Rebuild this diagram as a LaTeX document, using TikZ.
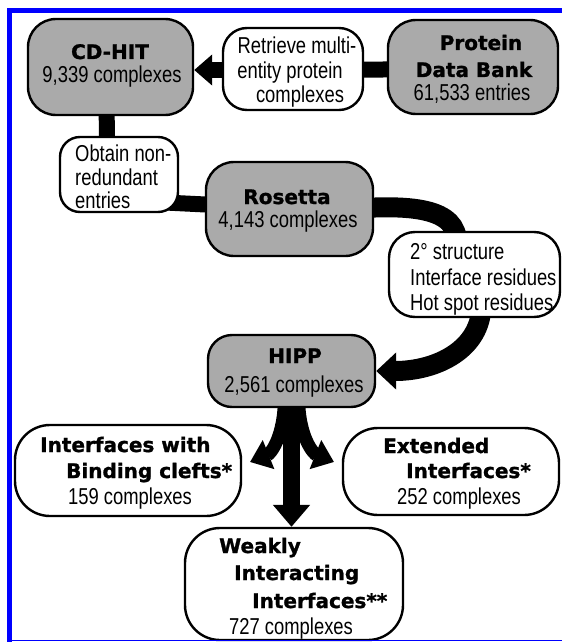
\documentclass[tikz,border=0pt]{standalone}
\usepackage{fontspec}
\setmainfont{Liberation Sans}
\newfontfamily\regfont[FakeStretch=0.8]{Liberation Sans}
\newfontfamily\heavyfont[FakeBold=1.2]{DejaVu Sans Bold}
\usetikzlibrary{arrows.meta,calc}
\pgfdeclarelayer{bg}
\pgfsetlayers{bg,main}
\definecolor{boxgray}{RGB}{170,170,170}
\definecolor{frameblue}{RGB}{0,0,255}
\begin{document}
\begin{tikzpicture}[x=1pt,y=1pt,
  graybox/.style={draw=black, line width=2.4pt, fill=boxgray, rounded corners=28pt, inner sep=0pt},
  whitebox/.style={draw=black, line width=2.4pt, fill=white, rounded corners=24pt, inner sep=0pt},
  reg/.style={font=\regfont\fontsize{23}{25}\selectfont, inner sep=0pt},
  hv/.style={font=\heavyfont\fontsize{20}{24}\selectfont, inner sep=0pt},
  band/.style={draw=black, line width=16pt, line cap=butt}
]
\useasboundingbox (0,0) rectangle (562,-642);

% boxes
\node[graybox, minimum width=165pt, minimum height=96pt] (cdhit) at (110.5,-67) {};
\node[whitebox, minimum width=140pt, minimum height=82pt] (retrieve) at (293,-69) {};
\node[graybox, minimum width=170pt, minimum height=94pt] (pdb) at (473,-67) {};
\node[whitebox, rounded corners=20pt, minimum width=118pt, minimum height=75pt] (obtain) at (119,-174.5) {};
\node[graybox, minimum width=167pt, minimum height=94pt] (rosetta) at (289.5,-209) {};
\node[whitebox, rounded corners=26pt, minimum width=171pt, minimum height=85pt] (second) at (474.5,-274.5) {};
\node[graybox, rounded corners=24pt, minimum width=167pt, minimum height=72pt] (hipp) at (291.5,-371) {};
\node[whitebox, rounded corners=35pt, minimum width=226pt, minimum height=91pt] (binding) at (128,-470.5) {};
\node[whitebox, rounded corners=35pt, minimum width=216pt, minimum height=87pt] (extended) at (451,-471.5) {};
\node[whitebox, rounded corners=35pt, minimum width=218pt, minimum height=112pt] (weakly) at (294,-584) {};

\coordinate (bl) at (250,-462);
\coordinate (br) at (334,-462);

% connectors
\begin{pgfonlayer}{bg}
\fill[white] (0,0) rectangle (562,-642);
\draw[band] ([yshift=-2pt]pdb.center) -- ([yshift=-1pt]retrieve.center);
\draw[band,-{Triangle[length=18pt,width=30pt]}] ([yshift=-1pt]retrieve.center) -- ([yshift=-3pt]cdhit.east);
\draw[band] ([xshift=-4pt]cdhit.center) -- ([xshift=-12pt]obtain.center);
\draw[band] ($(obtain.center)+(46,-28)$) -- ($(rosetta.center)+(-74,4)$);
\draw[band, line width=20pt] ($(rosetta.center)+(60,0)$) .. controls +(75,6) and +(5.5,37.5) .. ($(second.center)+(-18,25)$);
\draw[band, line width=20pt, -{Triangle[length=20pt,width=36pt]}] ($(second.center)+(7,-30)$) .. controls +(0,-45) and +(60,0) .. (hipp.east);
\draw[band, line width=17pt, -{Triangle[length=22pt,width=36pt]}] (hipp.center) -- (hipp.center |- weakly.north);
\draw[band, line width=13pt, -{Triangle[length=20pt,width=30pt]}] ($(hipp.center)+(-7,-25)$) .. controls +(0,-42) and +(20,8) .. (bl);
\draw[band, line width=13pt, -{Triangle[length=20pt,width=30pt]}] ($(hipp.center)+(7,-25)$) .. controls +(0,-42) and +(-20,8) .. (br);
\end{pgfonlayer}

% texts
\node[hv, anchor=base] (cdhitT) at (110,-59) {CD-HIT};
\node[reg, anchor=base] (cdhitN) at (112,-82) {9,339 complexes};
\node[reg, anchor=base] (retT1) at (297,-54) {Retrieve multi-};
\node[reg, anchor=base] (retT2) at (290,-78) {entity protein};
\node[reg, anchor=base] (retT3) at (300,-102) {complexes};
\node[hv, anchor=base] (pdbT1) at (481,-50) {Protein};
\node[hv, anchor=base] (pdbT2) at (474,-77) {Data Bank};
\node[reg, anchor=base] (pdbN) at (472,-100) {61,533 entries};
\node[reg, anchor=base west] (obT1) at (75,-161) {Obtain non-};
\node[reg, anchor=base west] (obT2) at (75,-185) {redundant};
\node[reg, anchor=base west] (obT3) at (75,-208) {entries};
\node[hv, anchor=base] (rosT) at (287,-204) {Rosetta};
\node[reg, anchor=base] (rosN) at (288,-227) {4,143 complexes};
\node[reg, anchor=base west] (secT1) at (410,-259) {2° structure};
\node[reg, anchor=base west] (secT2) at (410,-285) {Interface residues};
\node[reg, anchor=base west] (secT3) at (410,-310) {Hot spot residues};
\node[hv, anchor=base] (hippT) at (295,-363) {HIPP};
\node[reg, anchor=base] (hippN) at (294,-392) {2,561 complexes};
\node[hv, anchor=base west] (bdT1) at (40,-452) {Interfaces with};
\node[hv, anchor=base west] (bdT2) at (66,-478) {Binding clefts*};
\node[reg, anchor=base west] (bdN) at (68,-504) {159 complexes};
\node[hv, anchor=base west] (exT1) at (383,-453) {Extended};
\node[hv, anchor=base west] (exT2) at (406,-478) {Interfaces*};
\node[reg, anchor=base west] (exN) at (397,-504) {252 complexes};
\node[hv, anchor=base west] (wkT1) at (219,-553) {Weakly};
\node[hv, anchor=base west] (wkT2) at (234,-580) {Interacting};
\node[hv, anchor=base west] (wkT3) at (252,-608) {Interfaces**};
\node[reg, anchor=base west] (wkN) at (229,-634) {727 complexes};

% frame
\fill[frameblue] (7,-8) rectangle (12,-642);
\fill[frameblue] (7,-8) rectangle (562,-13);
\fill[frameblue] (7,-639.6) rectangle (562,-641.2);
\end{tikzpicture}
\end{document}
